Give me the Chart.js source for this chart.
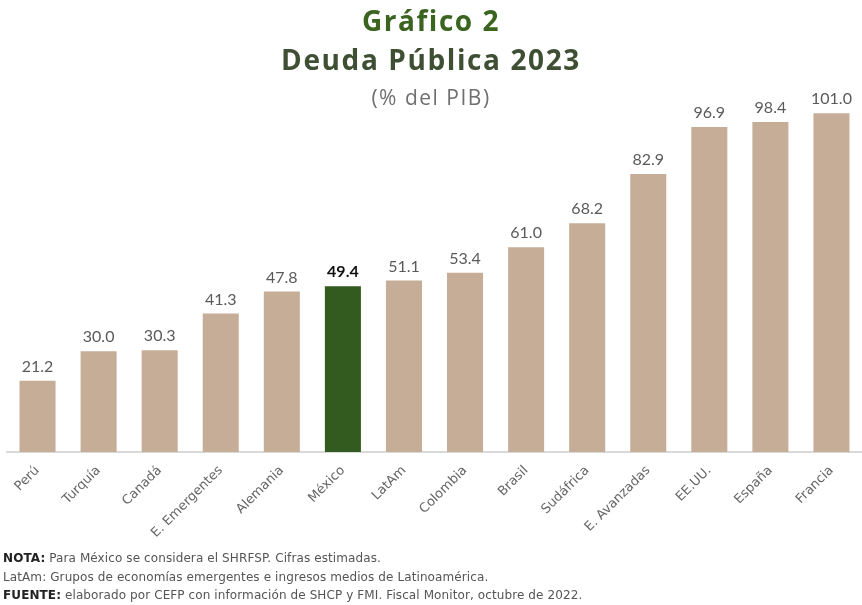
<!DOCTYPE html>
<html>
<head>
<meta charset="utf-8">
<script src="https://cdn.jsdelivr.net/npm/chart.js@4.4.0/dist/chart.umd.min.js"></script>
<style>
  body { margin: 0; background: #fff; font-family: Lato, "Open Sans", sans-serif; }
  #wrap { position: relative; width: 862px; height: 605px; }
  .t1, .t2, .t3 { position: absolute; left: 0; width: 862px; text-align: center; }
  .t1 { top: 1px; font: bold 28px "Open Sans", sans-serif; letter-spacing: 1.5px; color: #3b6420; }
  .t2 { top: 40px; font: bold 28px "Open Sans", sans-serif; letter-spacing: 1.6px; color: #3f4f33; }
  .t3 { top: 83px; font: 21px "Open Sans", sans-serif; letter-spacing: 1.5px; color: #707070; }
  #notes { position: absolute; left: 3px; top: 549px; font: 12px "DejaVu Sans", sans-serif; letter-spacing: 0.1px; color: #555; line-height: 18.5px; }
  #notes b { color: #222; }
</style>
</head>
<body>
<div id="wrap">
  <canvas id="myChart" width="862" height="605"></canvas>
  <div class="t1">Gráfico 2</div>
  <div class="t2">Deuda Pública 2023</div>
  <div class="t3">(% del PIB)</div>
  <div id="notes">
    <div><b>NOTA:</b> Para México se considera el SHRFSP. Cifras estimadas.</div>
    <div>LatAm: Grupos de economías emergentes e ingresos medios de Latinoamérica.</div>
    <div><b>FUENTE:</b> elaborado por CEFP con información de SHCP y FMI. Fiscal Monitor, octubre de 2022.</div>
  </div>
</div>
<script>
const paises = ['Perú', 'Turquía', 'Canadá', 'E. Emergentes', 'Alemania', 'México', 'LatAm', 'Colombia', 'Brasil', 'Sudáfrica', 'E. Avanzadas', 'EE.UU.', 'España', 'Francia'];
const deuda = [21.2, 30.0, 30.3, 41.3, 47.8, 49.4, 51.1, 53.4, 61.0, 68.2, 82.9, 96.9, 98.4, 101.0];
const destacado = 'México';

const colores = paises.map(p => p === destacado ? '#335a1f' : '#c6ad98');

const valueLabels = {
  id: 'valueLabels',
  afterDatasetsDraw(chart) {
    const ctx = chart.ctx;
    const meta = chart.getDatasetMeta(0);
    ctx.save();
    ctx.textAlign = 'center';
    ctx.textBaseline = 'bottom';
    meta.data.forEach((bar, i) => {
      const isMx = paises[i] === destacado;
      ctx.font = (isMx ? 'bold ' : '') + '16px Lato, sans-serif';
      ctx.fillStyle = isMx ? '#111' : '#5a5a5a';
      ctx.fillText(deuda[i].toFixed(1), bar.x, bar.y - 6);
    });
    ctx.restore();
  }
};

const ctx = document.getElementById('myChart');
new Chart(ctx, {
  type: 'bar',
  data: {
    labels: paises,
    datasets: [{
      data: deuda,
      backgroundColor: colores,
      barPercentage: 0.59,
      categoryPercentage: 1
    }]
  },
  options: {
    responsive: false,
    animation: false,
    layout: { padding: { top: 83, left: 7, right: 0, bottom: 61 } },
    plugins: { legend: { display: false }, tooltip: { enabled: false } },
    scales: {
      x: {
        grid: { display: false },
        border: { color: '#d9d9d9', width: 2 },
        ticks: {
          color: '#666',
          font: { size: 13, family: 'DejaVu Sans' },
          minRotation: 45,
          maxRotation: 45,
          autoSkip: false
        }
      },
      y: {
        display: false,
        min: 0,
        max: 110
      }
    }
  },
  plugins: [valueLabels]
});
</script>
</body>
</html>
